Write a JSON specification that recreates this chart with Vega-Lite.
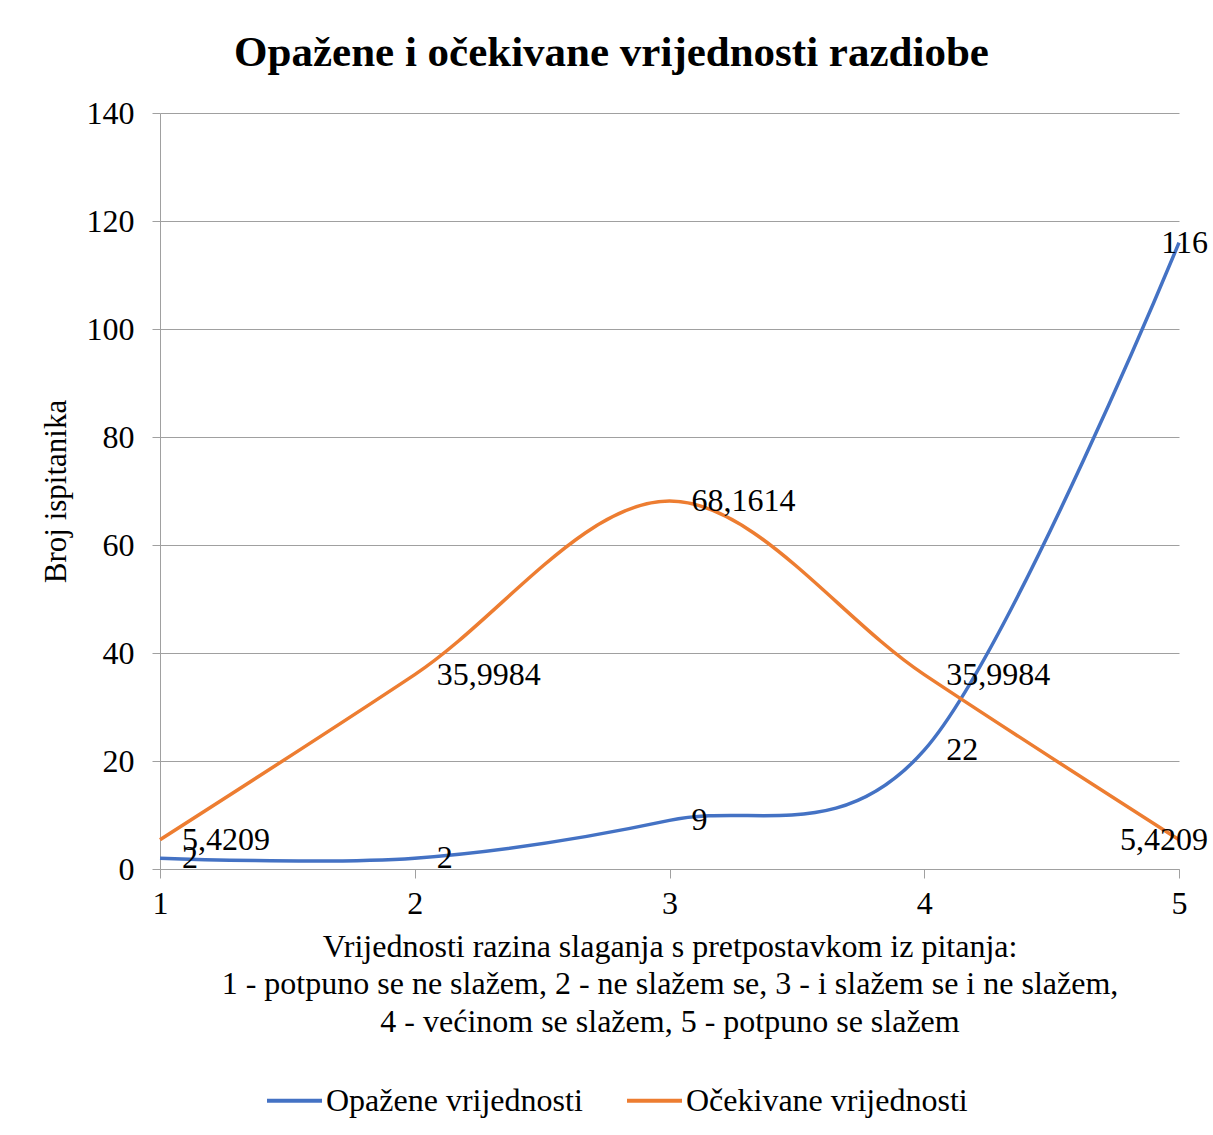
{
  "$schema": "https://vega.github.io/schema/vega-lite/v6.json",
  "width": 1019,
  "height": 756,
  "autosize": "none",
  "padding": {"left": 160, "top": 113, "right": 34, "bottom": 266},
  "background": "white",
  "config": {
    "font": "Liberation Serif",
    "view": {"stroke": null},
    "locale": {"number": {"decimal": ",", "thousands": ".", "grouping": [3], "currency": ["", " €"]}}
  },
  "title": {
    "text": "Opažene i očekivane vrijednosti razdiobe",
    "font": "Liberation Serif",
    "fontSize": 43,
    "fontWeight": "bold",
    "color": "black",
    "anchor": "middle",
    "baseline": "alphabetic",
    "offset": 43,
    "dx": -58,
    "dy": 55
  },
  "data": {
    "values": [
      {"x": 1, "series": "Opažene vrijednosti", "value": 2},
      {"x": 2, "series": "Opažene vrijednosti", "value": 2},
      {"x": 3, "series": "Opažene vrijednosti", "value": 9},
      {"x": 4, "series": "Opažene vrijednosti", "value": 22},
      {"x": 5, "series": "Opažene vrijednosti", "value": 116},
      {"x": 1, "series": "Očekivane vrijednosti", "value": 5.4209},
      {"x": 2, "series": "Očekivane vrijednosti", "value": 35.9984},
      {"x": 3, "series": "Očekivane vrijednosti", "value": 68.1614},
      {"x": 4, "series": "Očekivane vrijednosti", "value": 35.9984},
      {"x": 5, "series": "Očekivane vrijednosti", "value": 5.4209}
    ]
  },
  "encoding": {
    "x": {
      "field": "x",
      "type": "quantitative",
      "scale": {"domain": [1, 5], "nice": false, "zero": false},
      "axis": {
        "values": [1, 2, 3, 4, 5],
        "format": "d",
        "grid": false,
        "domainColor": "#a0a0a0",
        "tickColor": "#a0a0a0",
        "tickSize": 9,
        "labelFont": "Liberation Serif",
        "labelFontSize": 32,
        "labelColor": "black",
        "labelPadding": 10,
        "labelFlush": false,
        "title": [
          "Vrijednosti razina slaganja s pretpostavkom iz pitanja:",
          "1 - potpuno se ne slažem, 2 - ne slažem se, 3 - i slažem se i ne slažem,",
          "4 - većinom se slažem, 5 - potpuno se slažem"
        ],
        "titleFont": "Liberation Serif",
        "titleFontSize": 32,
        "titleFontWeight": "normal",
        "titleColor": "black",
        "titleLineHeight": 37.5,
        "titlePadding": 12
      }
    },
    "y": {
      "field": "value",
      "type": "quantitative",
      "scale": {"domain": [0, 140], "nice": false},
      "axis": {
        "values": [0, 20, 40, 60, 80, 100, 120, 140],
        "grid": true,
        "gridColor": "#a0a0a0",
        "gridWidth": 1,
        "domainColor": "#a0a0a0",
        "tickColor": "#a0a0a0",
        "tickSize": 8,
        "labelFont": "Liberation Serif",
        "labelFontSize": 32,
        "labelColor": "black",
        "labelPadding": 18,
        "title": "Broj ispitanika",
        "titleFont": "Liberation Serif",
        "titleFontSize": 31,
        "titleFontWeight": "normal",
        "titleColor": "black",
        "titlePadding": 14
      }
    }
  },
  "layer": [
    {
      "mark": {"type": "line", "interpolate": "catmull-rom", "tension": 0, "strokeWidth": 3.5},
      "encoding": {
        "color": {
          "field": "series",
          "type": "nominal",
          "scale": {"domain": ["Opažene vrijednosti", "Očekivane vrijednosti"], "range": ["#4472C4", "#ED7D31"]},
          "legend": {
            "orient": "none",
            "direction": "horizontal",
            "legendX": 105,
            "legendY": 958,
            "title": null,
            "symbolType": "stroke",
            "symbolSize": 3025,
            "symbolStrokeWidth": 4,
            "labelFont": "Liberation Serif",
            "labelFontSize": 32,
            "labelColor": "black",
            "labelOffset": 2,
            "columnPadding": 36,
            "labelLimit": 400
          }
        }
      }
    },
    {
      "transform": [{"filter": "datum.x < 5"}],
      "mark": {"type": "text", "align": "left", "baseline": "middle", "dx": 22, "font": "Liberation Serif", "fontSize": 32, "color": "black"},
      "encoding": {"text": {"field": "value", "type": "quantitative", "format": ".4~f"}}
    },
    {
      "transform": [{"filter": "datum.x == 5"}],
      "mark": {"type": "text", "align": "right", "baseline": "middle", "dx": 29, "font": "Liberation Serif", "fontSize": 32, "color": "black"},
      "encoding": {"text": {"field": "value", "type": "quantitative", "format": ".4~f"}}
    }
  ]
}
